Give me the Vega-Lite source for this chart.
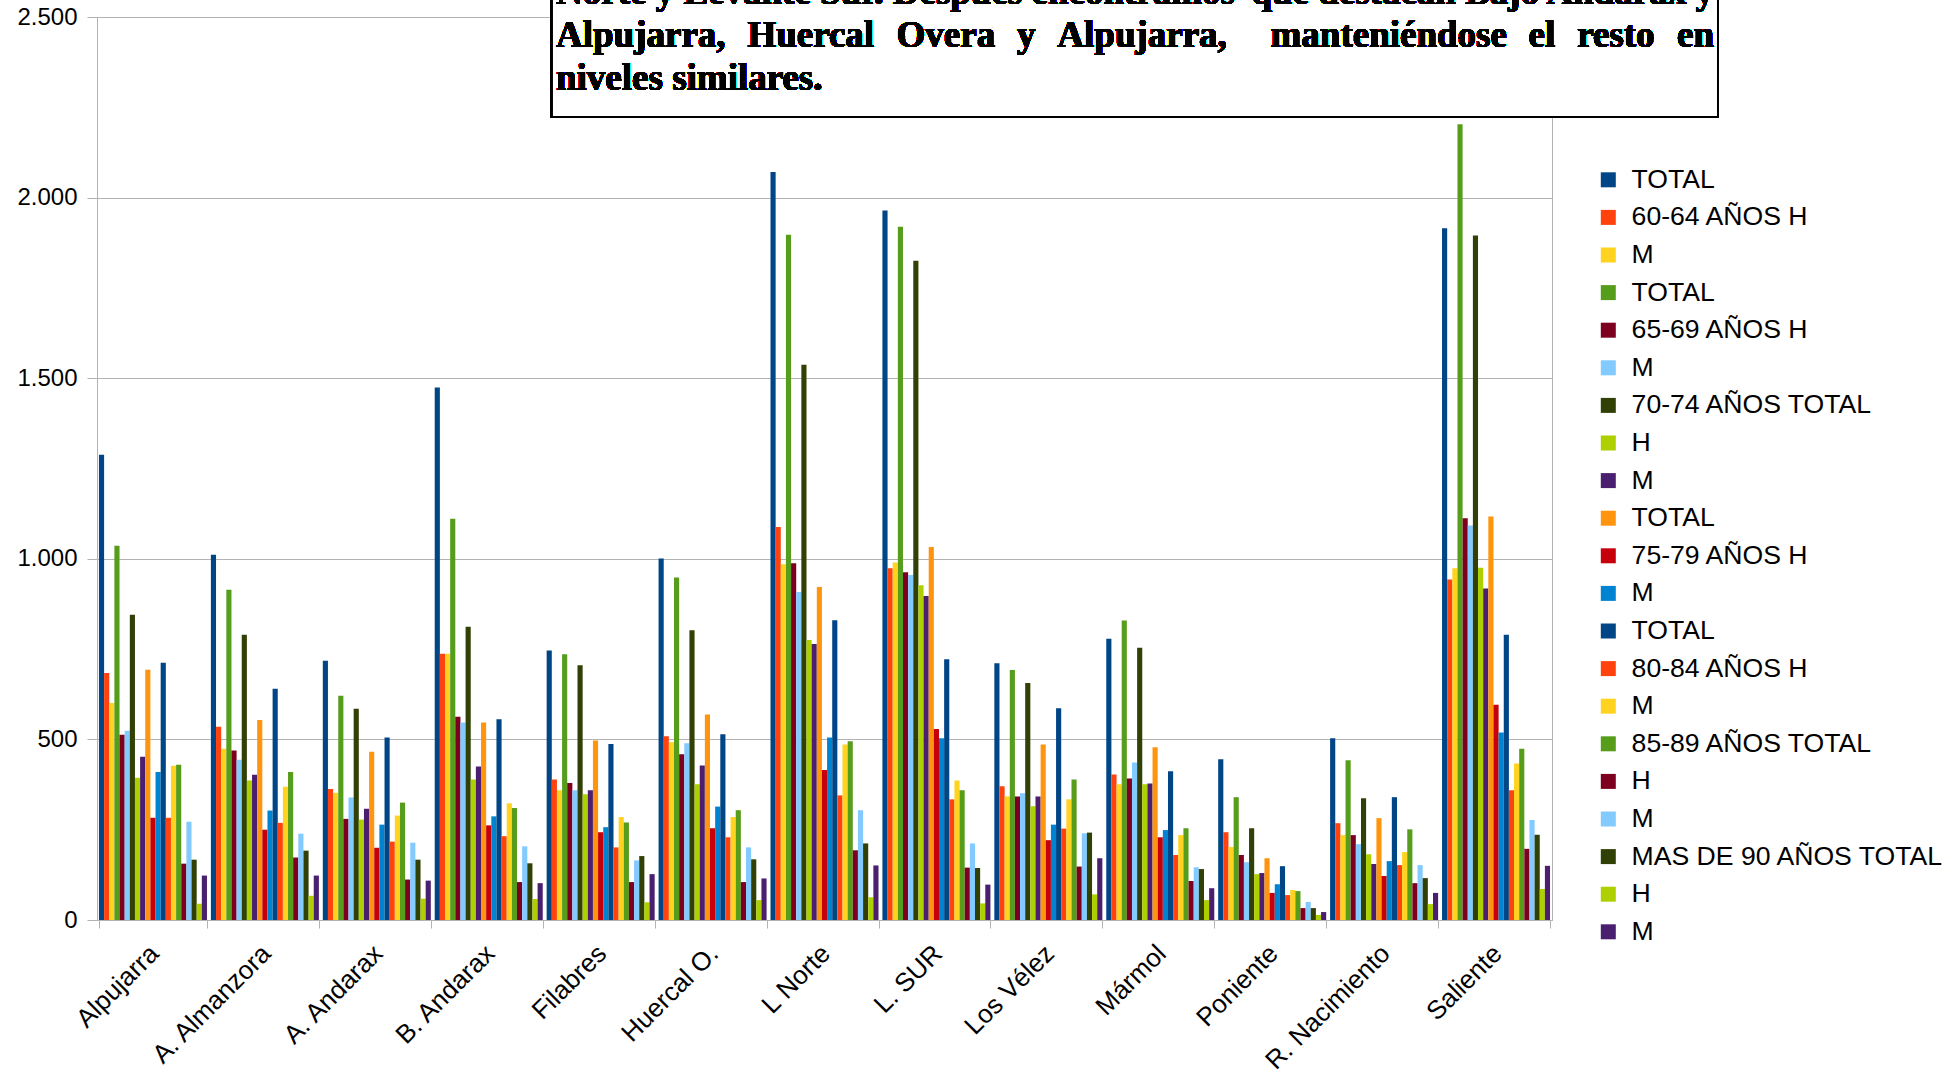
{
  "$schema": "https://vega.github.io/schema/vega-lite/v6.json",
  "width": 1455,
  "height": 903,
  "autosize": {"type": "none"},
  "padding": {"left": 97, "top": 17, "right": 398, "bottom": 151},
  "background": "white",
  "config": {
    "view": {"stroke": "#b3b3b3", "strokeWidth": 1},
    "font": "Liberation Sans",
    "axis": {"labelFont": "Liberation Sans", "labelColor": "black"},
    "legend": {"labelFont": "Liberation Sans", "labelColor": "black"},
    "text": {"font": "Liberation Serif", "fontWeight": "bold", "fontSize": 37, "baseline": "alphabetic", "color": "black"}
  },
  "data": {"values": [
    {"zona":"Alpujarra","serie":"60-64 TOTAL","valor":1288},{"zona":"Alpujarra","serie":"60-64 H","valor":684},{"zona":"Alpujarra","serie":"60-64 M","valor":601},{"zona":"Alpujarra","serie":"65-69 TOTAL","valor":1036},{"zona":"Alpujarra","serie":"65-69 H","valor":513},{"zona":"Alpujarra","serie":"65-69 M","valor":524},{"zona":"Alpujarra","serie":"70-74 TOTAL","valor":845},{"zona":"Alpujarra","serie":"70-74 H","valor":394},{"zona":"Alpujarra","serie":"70-74 M","valor":452},{"zona":"Alpujarra","serie":"75-79 TOTAL","valor":693},{"zona":"Alpujarra","serie":"75-79 H","valor":283},{"zona":"Alpujarra","serie":"75-79 M","valor":410},{"zona":"Alpujarra","serie":"80-84 TOTAL","valor":712},{"zona":"Alpujarra","serie":"80-84 H","valor":283},{"zona":"Alpujarra","serie":"80-84 M","valor":427},{"zona":"Alpujarra","serie":"85-89 TOTAL","valor":430},{"zona":"Alpujarra","serie":"85-89 H","valor":156},{"zona":"Alpujarra","serie":"85-89 M","valor":272},{"zona":"Alpujarra","serie":"90+ TOTAL","valor":167},{"zona":"Alpujarra","serie":"90+ H","valor":45},{"zona":"Alpujarra","serie":"90+ M","valor":123},
    {"zona":"A. Almanzora","serie":"60-64 TOTAL","valor":1011},{"zona":"A. Almanzora","serie":"60-64 H","valor":535},{"zona":"A. Almanzora","serie":"60-64 M","valor":474},{"zona":"A. Almanzora","serie":"65-69 TOTAL","valor":914},{"zona":"A. Almanzora","serie":"65-69 H","valor":469},{"zona":"A. Almanzora","serie":"65-69 M","valor":444},{"zona":"A. Almanzora","serie":"70-74 TOTAL","valor":790},{"zona":"A. Almanzora","serie":"70-74 H","valor":386},{"zona":"A. Almanzora","serie":"70-74 M","valor":402},{"zona":"A. Almanzora","serie":"75-79 TOTAL","valor":554},{"zona":"A. Almanzora","serie":"75-79 H","valor":250},{"zona":"A. Almanzora","serie":"75-79 M","valor":303},{"zona":"A. Almanzora","serie":"80-84 TOTAL","valor":640},{"zona":"A. Almanzora","serie":"80-84 H","valor":269},{"zona":"A. Almanzora","serie":"80-84 M","valor":369},{"zona":"A. Almanzora","serie":"85-89 TOTAL","valor":410},{"zona":"A. Almanzora","serie":"85-89 H","valor":173},{"zona":"A. Almanzora","serie":"85-89 M","valor":239},{"zona":"A. Almanzora","serie":"90+ TOTAL","valor":192},{"zona":"A. Almanzora","serie":"90+ H","valor":67},{"zona":"A. Almanzora","serie":"90+ M","valor":123},
    {"zona":"A. Andarax","serie":"60-64 TOTAL","valor":718},{"zona":"A. Andarax","serie":"60-64 H","valor":363},{"zona":"A. Andarax","serie":"60-64 M","valor":352},{"zona":"A. Andarax","serie":"65-69 TOTAL","valor":621},{"zona":"A. Andarax","serie":"65-69 H","valor":280},{"zona":"A. Andarax","serie":"65-69 M","valor":339},{"zona":"A. Andarax","serie":"70-74 TOTAL","valor":585},{"zona":"A. Andarax","serie":"70-74 H","valor":278},{"zona":"A. Andarax","serie":"70-74 M","valor":308},{"zona":"A. Andarax","serie":"75-79 TOTAL","valor":466},{"zona":"A. Andarax","serie":"75-79 H","valor":200},{"zona":"A. Andarax","serie":"75-79 M","valor":264},{"zona":"A. Andarax","serie":"80-84 TOTAL","valor":505},{"zona":"A. Andarax","serie":"80-84 H","valor":217},{"zona":"A. Andarax","serie":"80-84 M","valor":289},{"zona":"A. Andarax","serie":"85-89 TOTAL","valor":325},{"zona":"A. Andarax","serie":"85-89 H","valor":112},{"zona":"A. Andarax","serie":"85-89 M","valor":214},{"zona":"A. Andarax","serie":"90+ TOTAL","valor":167},{"zona":"A. Andarax","serie":"90+ H","valor":59},{"zona":"A. Andarax","serie":"90+ M","valor":109},
    {"zona":"B. Andarax","serie":"60-64 TOTAL","valor":1474},{"zona":"B. Andarax","serie":"60-64 H","valor":737},{"zona":"B. Andarax","serie":"60-64 M","valor":737},{"zona":"B. Andarax","serie":"65-69 TOTAL","valor":1111},{"zona":"B. Andarax","serie":"65-69 H","valor":563},{"zona":"B. Andarax","serie":"65-69 M","valor":547},{"zona":"B. Andarax","serie":"70-74 TOTAL","valor":812},{"zona":"B. Andarax","serie":"70-74 H","valor":389},{"zona":"B. Andarax","serie":"70-74 M","valor":425},{"zona":"B. Andarax","serie":"75-79 TOTAL","valor":547},{"zona":"B. Andarax","serie":"75-79 H","valor":262},{"zona":"B. Andarax","serie":"75-79 M","valor":287},{"zona":"B. Andarax","serie":"80-84 TOTAL","valor":556},{"zona":"B. Andarax","serie":"80-84 H","valor":232},{"zona":"B. Andarax","serie":"80-84 M","valor":323},{"zona":"B. Andarax","serie":"85-89 TOTAL","valor":310},{"zona":"B. Andarax","serie":"85-89 H","valor":105},{"zona":"B. Andarax","serie":"85-89 M","valor":204},{"zona":"B. Andarax","serie":"90+ TOTAL","valor":157},{"zona":"B. Andarax","serie":"90+ H","valor":58},{"zona":"B. Andarax","serie":"90+ M","valor":102},
    {"zona":"Filabres","serie":"60-64 TOTAL","valor":746},{"zona":"Filabres","serie":"60-64 H","valor":389},{"zona":"Filabres","serie":"60-64 M","valor":359},{"zona":"Filabres","serie":"65-69 TOTAL","valor":736},{"zona":"Filabres","serie":"65-69 H","valor":379},{"zona":"Filabres","serie":"65-69 M","valor":359},{"zona":"Filabres","serie":"70-74 TOTAL","valor":705},{"zona":"Filabres","serie":"70-74 H","valor":348},{"zona":"Filabres","serie":"70-74 M","valor":359},{"zona":"Filabres","serie":"75-79 TOTAL","valor":497},{"zona":"Filabres","serie":"75-79 H","valor":243},{"zona":"Filabres","serie":"75-79 M","valor":257},{"zona":"Filabres","serie":"80-84 TOTAL","valor":487},{"zona":"Filabres","serie":"80-84 H","valor":201},{"zona":"Filabres","serie":"80-84 M","valor":285},{"zona":"Filabres","serie":"85-89 TOTAL","valor":270},{"zona":"Filabres","serie":"85-89 H","valor":105},{"zona":"Filabres","serie":"85-89 M","valor":165},{"zona":"Filabres","serie":"90+ TOTAL","valor":177},{"zona":"Filabres","serie":"90+ H","valor":49},{"zona":"Filabres","serie":"90+ M","valor":127},
    {"zona":"Huercal O.","serie":"60-64 TOTAL","valor":1001},{"zona":"Huercal O.","serie":"60-64 H","valor":509},{"zona":"Huercal O.","serie":"60-64 M","valor":492},{"zona":"Huercal O.","serie":"65-69 TOTAL","valor":948},{"zona":"Huercal O.","serie":"65-69 H","valor":459},{"zona":"Huercal O.","serie":"65-69 M","valor":489},{"zona":"Huercal O.","serie":"70-74 TOTAL","valor":802},{"zona":"Huercal O.","serie":"70-74 H","valor":376},{"zona":"Huercal O.","serie":"70-74 M","valor":428},{"zona":"Huercal O.","serie":"75-79 TOTAL","valor":569},{"zona":"Huercal O.","serie":"75-79 H","valor":254},{"zona":"Huercal O.","serie":"75-79 M","valor":314},{"zona":"Huercal O.","serie":"80-84 TOTAL","valor":514},{"zona":"Huercal O.","serie":"80-84 H","valor":229},{"zona":"Huercal O.","serie":"80-84 M","valor":285},{"zona":"Huercal O.","serie":"85-89 TOTAL","valor":304},{"zona":"Huercal O.","serie":"85-89 H","valor":105},{"zona":"Huercal O.","serie":"85-89 M","valor":201},{"zona":"Huercal O.","serie":"90+ TOTAL","valor":168},{"zona":"Huercal O.","serie":"90+ H","valor":55},{"zona":"Huercal O.","serie":"90+ M","valor":115},
    {"zona":"L Norte","serie":"60-64 TOTAL","valor":2071},{"zona":"L Norte","serie":"60-64 H","valor":1088},{"zona":"L Norte","serie":"60-64 M","valor":985},{"zona":"L Norte","serie":"65-69 TOTAL","valor":1897},{"zona":"L Norte","serie":"65-69 H","valor":988},{"zona":"L Norte","serie":"65-69 M","valor":908},{"zona":"L Norte","serie":"70-74 TOTAL","valor":1537},{"zona":"L Norte","serie":"70-74 H","valor":775},{"zona":"L Norte","serie":"70-74 M","valor":764},{"zona":"L Norte","serie":"75-79 TOTAL","valor":922},{"zona":"L Norte","serie":"75-79 H","valor":415},{"zona":"L Norte","serie":"75-79 M","valor":505},{"zona":"L Norte","serie":"80-84 TOTAL","valor":830},{"zona":"L Norte","serie":"80-84 H","valor":345},{"zona":"L Norte","serie":"80-84 M","valor":486},{"zona":"L Norte","serie":"85-89 TOTAL","valor":495},{"zona":"L Norte","serie":"85-89 H","valor":193},{"zona":"L Norte","serie":"85-89 M","valor":304},{"zona":"L Norte","serie":"90+ TOTAL","valor":212},{"zona":"L Norte","serie":"90+ H","valor":63},{"zona":"L Norte","serie":"90+ M","valor":151},
    {"zona":"L. SUR","serie":"60-64 TOTAL","valor":1964},{"zona":"L. SUR","serie":"60-64 H","valor":974},{"zona":"L. SUR","serie":"60-64 M","valor":990},{"zona":"L. SUR","serie":"65-69 TOTAL","valor":1919},{"zona":"L. SUR","serie":"65-69 H","valor":963},{"zona":"L. SUR","serie":"65-69 M","valor":955},{"zona":"L. SUR","serie":"70-74 TOTAL","valor":1825},{"zona":"L. SUR","serie":"70-74 H","valor":927},{"zona":"L. SUR","serie":"70-74 M","valor":897},{"zona":"L. SUR","serie":"75-79 TOTAL","valor":1033},{"zona":"L. SUR","serie":"75-79 H","valor":529},{"zona":"L. SUR","serie":"75-79 M","valor":503},{"zona":"L. SUR","serie":"80-84 TOTAL","valor":722},{"zona":"L. SUR","serie":"80-84 H","valor":334},{"zona":"L. SUR","serie":"80-84 M","valor":386},{"zona":"L. SUR","serie":"85-89 TOTAL","valor":359},{"zona":"L. SUR","serie":"85-89 H","valor":145},{"zona":"L. SUR","serie":"85-89 M","valor":212},{"zona":"L. SUR","serie":"90+ TOTAL","valor":144},{"zona":"L. SUR","serie":"90+ H","valor":46},{"zona":"L. SUR","serie":"90+ M","valor":98},
    {"zona":"Los Vélez","serie":"60-64 TOTAL","valor":711},{"zona":"Los Vélez","serie":"60-64 H","valor":370},{"zona":"Los Vélez","serie":"60-64 M","valor":342},{"zona":"Los Vélez","serie":"65-69 TOTAL","valor":692},{"zona":"Los Vélez","serie":"65-69 H","valor":342},{"zona":"Los Vélez","serie":"65-69 M","valor":351},{"zona":"Los Vélez","serie":"70-74 TOTAL","valor":656},{"zona":"Los Vélez","serie":"70-74 H","valor":315},{"zona":"Los Vélez","serie":"70-74 M","valor":342},{"zona":"Los Vélez","serie":"75-79 TOTAL","valor":486},{"zona":"Los Vélez","serie":"75-79 H","valor":221},{"zona":"Los Vélez","serie":"75-79 M","valor":264},{"zona":"Los Vélez","serie":"80-84 TOTAL","valor":586},{"zona":"Los Vélez","serie":"80-84 H","valor":253},{"zona":"Los Vélez","serie":"80-84 M","valor":334},{"zona":"Los Vélez","serie":"85-89 TOTAL","valor":389},{"zona":"Los Vélez","serie":"85-89 H","valor":148},{"zona":"Los Vélez","serie":"85-89 M","valor":240},{"zona":"Los Vélez","serie":"90+ TOTAL","valor":242},{"zona":"Los Vélez","serie":"90+ H","valor":71},{"zona":"Los Vélez","serie":"90+ M","valor":171},
    {"zona":"Mármol","serie":"60-64 TOTAL","valor":779},{"zona":"Mármol","serie":"60-64 H","valor":403},{"zona":"Mármol","serie":"60-64 M","valor":376},{"zona":"Mármol","serie":"65-69 TOTAL","valor":829},{"zona":"Mármol","serie":"65-69 H","valor":392},{"zona":"Mármol","serie":"65-69 M","valor":436},{"zona":"Mármol","serie":"70-74 TOTAL","valor":754},{"zona":"Mármol","serie":"70-74 H","valor":376},{"zona":"Mármol","serie":"70-74 M","valor":378},{"zona":"Mármol","serie":"75-79 TOTAL","valor":478},{"zona":"Mármol","serie":"75-79 H","valor":229},{"zona":"Mármol","serie":"75-79 M","valor":249},{"zona":"Mármol","serie":"80-84 TOTAL","valor":412},{"zona":"Mármol","serie":"80-84 H","valor":180},{"zona":"Mármol","serie":"80-84 M","valor":235},{"zona":"Mármol","serie":"85-89 TOTAL","valor":254},{"zona":"Mármol","serie":"85-89 H","valor":108},{"zona":"Mármol","serie":"85-89 M","valor":146},{"zona":"Mármol","serie":"90+ TOTAL","valor":141},{"zona":"Mármol","serie":"90+ H","valor":55},{"zona":"Mármol","serie":"90+ M","valor":88},
    {"zona":"Poniente","serie":"60-64 TOTAL","valor":445},{"zona":"Poniente","serie":"60-64 H","valor":243},{"zona":"Poniente","serie":"60-64 M","valor":202},{"zona":"Poniente","serie":"65-69 TOTAL","valor":340},{"zona":"Poniente","serie":"65-69 H","valor":180},{"zona":"Poniente","serie":"65-69 M","valor":160},{"zona":"Poniente","serie":"70-74 TOTAL","valor":254},{"zona":"Poniente","serie":"70-74 H","valor":127},{"zona":"Poniente","serie":"70-74 M","valor":130},{"zona":"Poniente","serie":"75-79 TOTAL","valor":171},{"zona":"Poniente","serie":"75-79 H","valor":75},{"zona":"Poniente","serie":"75-79 M","valor":99},{"zona":"Poniente","serie":"80-84 TOTAL","valor":149},{"zona":"Poniente","serie":"80-84 H","valor":69},{"zona":"Poniente","serie":"80-84 M","valor":83},{"zona":"Poniente","serie":"85-89 TOTAL","valor":80},{"zona":"Poniente","serie":"85-89 H","valor":33},{"zona":"Poniente","serie":"85-89 M","valor":50},{"zona":"Poniente","serie":"90+ TOTAL","valor":33},{"zona":"Poniente","serie":"90+ H","valor":14},{"zona":"Poniente","serie":"90+ M","valor":22},
    {"zona":"R. Nacimiento","serie":"60-64 TOTAL","valor":503},{"zona":"R. Nacimiento","serie":"60-64 H","valor":268},{"zona":"R. Nacimiento","serie":"60-64 M","valor":235},{"zona":"R. Nacimiento","serie":"65-69 TOTAL","valor":442},{"zona":"R. Nacimiento","serie":"65-69 H","valor":235},{"zona":"R. Nacimiento","serie":"65-69 M","valor":210},{"zona":"R. Nacimiento","serie":"70-74 TOTAL","valor":337},{"zona":"R. Nacimiento","serie":"70-74 H","valor":182},{"zona":"R. Nacimiento","serie":"70-74 M","valor":155},{"zona":"R. Nacimiento","serie":"75-79 TOTAL","valor":282},{"zona":"R. Nacimiento","serie":"75-79 H","valor":122},{"zona":"R. Nacimiento","serie":"75-79 M","valor":163},{"zona":"R. Nacimiento","serie":"80-84 TOTAL","valor":340},{"zona":"R. Nacimiento","serie":"80-84 H","valor":152},{"zona":"R. Nacimiento","serie":"80-84 M","valor":188},{"zona":"R. Nacimiento","serie":"85-89 TOTAL","valor":251},{"zona":"R. Nacimiento","serie":"85-89 H","valor":102},{"zona":"R. Nacimiento","serie":"85-89 M","valor":152},{"zona":"R. Nacimiento","serie":"90+ TOTAL","valor":116},{"zona":"R. Nacimiento","serie":"90+ H","valor":44},{"zona":"R. Nacimiento","serie":"90+ M","valor":75},
    {"zona":"Saliente","serie":"60-64 TOTAL","valor":1915},{"zona":"Saliente","serie":"60-64 H","valor":943},{"zona":"Saliente","serie":"60-64 M","valor":974},{"zona":"Saliente","serie":"65-69 TOTAL","valor":2203},{"zona":"Saliente","serie":"65-69 H","valor":1112},{"zona":"Saliente","serie":"65-69 M","valor":1092},{"zona":"Saliente","serie":"70-74 TOTAL","valor":1895},{"zona":"Saliente","serie":"70-74 H","valor":975},{"zona":"Saliente","serie":"70-74 M","valor":918},{"zona":"Saliente","serie":"75-79 TOTAL","valor":1117},{"zona":"Saliente","serie":"75-79 H","valor":596},{"zona":"Saliente","serie":"75-79 M","valor":519},{"zona":"Saliente","serie":"80-84 TOTAL","valor":790},{"zona":"Saliente","serie":"80-84 H","valor":359},{"zona":"Saliente","serie":"80-84 M","valor":433},{"zona":"Saliente","serie":"85-89 TOTAL","valor":474},{"zona":"Saliente","serie":"85-89 H","valor":197},{"zona":"Saliente","serie":"85-89 M","valor":277},{"zona":"Saliente","serie":"90+ TOTAL","valor":236},{"zona":"Saliente","serie":"90+ H","valor":86},{"zona":"Saliente","serie":"90+ M","valor":150}
  ]},
  "layer": [
    {
      "mark": {"type": "bar"},
      "encoding": {
        "x": {"field": "zona", "type": "nominal", "sort": null,
          "scale": {"paddingInner": 0.035, "paddingOuter": 0.0175},
          "axis": {"title": null, "labelAngle": -45, "labelFontSize": 26, "tickBand": "extent", "tickSize": 8, "tickColor": "#b3b3b3", "domainColor": "#b3b3b3", "labelPadding": 12, "labelOffset": -8}},
        "xOffset": {"field": "serie", "type": "nominal",
          "sort": ["60-64 TOTAL","60-64 H","60-64 M","65-69 TOTAL","65-69 H","65-69 M","70-74 TOTAL","70-74 H","70-74 M","75-79 TOTAL","75-79 H","75-79 M","80-84 TOTAL","80-84 H","80-84 M","85-89 TOTAL","85-89 H","85-89 M","90+ TOTAL","90+ H","90+ M"],
          "scale": {"paddingInner": 0, "paddingOuter": 0}},
        "y": {"field": "valor", "type": "quantitative",
          "scale": {"domain": [0, 2500], "nice": false},
          "axis": {"title": null, "values": [0, 500, 1000, 1500, 2000, 2500], "labelExpr": "replace(format(datum.value, ','), ',', '.')", "labelFontSize": 24, "gridColor": "#b3b3b3", "tickColor": "#b3b3b3", "domainColor": "#b3b3b3", "tickSize": 10, "labelPadding": 10}},
        "color": {"field": "serie", "type": "nominal",
          "sort": ["60-64 TOTAL","60-64 H","60-64 M","65-69 TOTAL","65-69 H","65-69 M","70-74 TOTAL","70-74 H","70-74 M","75-79 TOTAL","75-79 H","75-79 M","80-84 TOTAL","80-84 H","80-84 M","85-89 TOTAL","85-89 H","85-89 M","90+ TOTAL","90+ H","90+ M"],
          "scale": {
            "domain": ["60-64 TOTAL","60-64 H","60-64 M","65-69 TOTAL","65-69 H","65-69 M","70-74 TOTAL","70-74 H","70-74 M","75-79 TOTAL","75-79 H","75-79 M","80-84 TOTAL","80-84 H","80-84 M","85-89 TOTAL","85-89 H","85-89 M","90+ TOTAL","90+ H","90+ M"],
            "range": ["#004586","#ff420e","#ffd320","#579d1c","#7e0021","#83caff","#314004","#aecf00","#4b1f6f","#ff950e","#c5000b","#0084d1","#004586","#ff420e","#ffd320","#579d1c","#7e0021","#83caff","#314004","#aecf00","#4b1f6f"]},
          "legend": {"title": null, "orient": "none", "legendX": 1498, "legendY": 149.5, "symbolType": "square", "symbolSize": 225, "symbolStrokeWidth": 0, "labelFontSize": 26.6, "rowPadding": 10.6, "labelOffset": 10, "labelLimit": 400,
            "labelExpr": "['TOTAL','60-64 AÑOS H','M','TOTAL','65-69 AÑOS H','M','70-74 AÑOS TOTAL','H','M','TOTAL','75-79 AÑOS H','M','TOTAL','80-84 AÑOS H','M','85-89 AÑOS TOTAL','H','M','MAS DE 90 AÑOS TOTAL','H','M'][indexof(['60-64 TOTAL','60-64 H','60-64 M','65-69 TOTAL','65-69 H','65-69 M','70-74 TOTAL','70-74 H','70-74 M','75-79 TOTAL','75-79 H','75-79 M','80-84 TOTAL','80-84 H','80-84 M','85-89 TOTAL','85-89 H','85-89 M','90+ TOTAL','90+ H','90+ M'], datum.value)]"}}
      }
    },
    {
      "mark": {"type": "rect", "fill": "white", "stroke": "black", "strokeWidth": 2},
      "encoding": {
        "x": {"datum": 4.065, "type": "quantitative", "scale": {"domain": [0, 13]}, "axis": null},
        "x2": {"datum": 14.483},
        "y": {"datum": 2223},
        "y2": {"datum": 2800}
      }
    },
    {"mark": {"type": "text", "align": "left"}, "encoding": {"x": {"datum": 4.101, "type": "quantitative", "scale": {"domain": [0, 13]}, "axis": null}, "y": {"datum": 2537}, "text": {"value": "Norte y Levante Sur. Después encontramos"}}},
    {"mark": {"type": "text", "align": "right"}, "encoding": {"x": {"datum": 14.447, "type": "quantitative", "scale": {"domain": [0, 13]}, "axis": null}, "y": {"datum": 2537}, "text": {"value": "que destacan Bajo Andarax y"}}},
    {"mark": {"type": "text", "align": "left"}, "encoding": {"x": {"datum": 4.101, "type": "quantitative", "scale": {"domain": [0, 13]}, "axis": null}, "y": {"datum": 2418}, "text": {"value": "Alpujarra,"}}},
    {"mark": {"type": "text", "align": "left"}, "encoding": {"x": {"datum": 5.811, "type": "quantitative", "scale": {"domain": [0, 13]}, "axis": null}, "y": {"datum": 2418}, "text": {"value": "Huercal"}}},
    {"mark": {"type": "text", "align": "left"}, "encoding": {"x": {"datum": 7.144, "type": "quantitative", "scale": {"domain": [0, 13]}, "axis": null}, "y": {"datum": 2418}, "text": {"value": "Overa"}}},
    {"mark": {"type": "text", "align": "left"}, "encoding": {"x": {"datum": 8.220, "type": "quantitative", "scale": {"domain": [0, 13]}, "axis": null}, "y": {"datum": 2418}, "text": {"value": "y"}}},
    {"mark": {"type": "text", "align": "left"}, "encoding": {"x": {"datum": 8.580, "type": "quantitative", "scale": {"domain": [0, 13]}, "axis": null}, "y": {"datum": 2418}, "text": {"value": "Alpujarra,"}}},
    {"mark": {"type": "text", "align": "left"}, "encoding": {"x": {"datum": 10.485, "type": "quantitative", "scale": {"domain": [0, 13]}, "axis": null}, "y": {"datum": 2418}, "text": {"value": "manteniéndose"}}},
    {"mark": {"type": "text", "align": "left"}, "encoding": {"x": {"datum": 12.791, "type": "quantitative", "scale": {"domain": [0, 13]}, "axis": null}, "y": {"datum": 2418}, "text": {"value": "el"}}},
    {"mark": {"type": "text", "align": "left"}, "encoding": {"x": {"datum": 13.225, "type": "quantitative", "scale": {"domain": [0, 13]}, "axis": null}, "y": {"datum": 2418}, "text": {"value": "resto"}}},
    {"mark": {"type": "text", "align": "right"}, "encoding": {"x": {"datum": 14.447, "type": "quantitative", "scale": {"domain": [0, 13]}, "axis": null}, "y": {"datum": 2418}, "text": {"value": "en"}}},
    {"mark": {"type": "text", "align": "left"}, "encoding": {"x": {"datum": 4.101, "type": "quantitative", "scale": {"domain": [0, 13]}, "axis": null}, "y": {"datum": 2297}, "text": {"value": "niveles similares."}}}
  ],
  "resolve": {"scale": {"x": "independent"}}
}
